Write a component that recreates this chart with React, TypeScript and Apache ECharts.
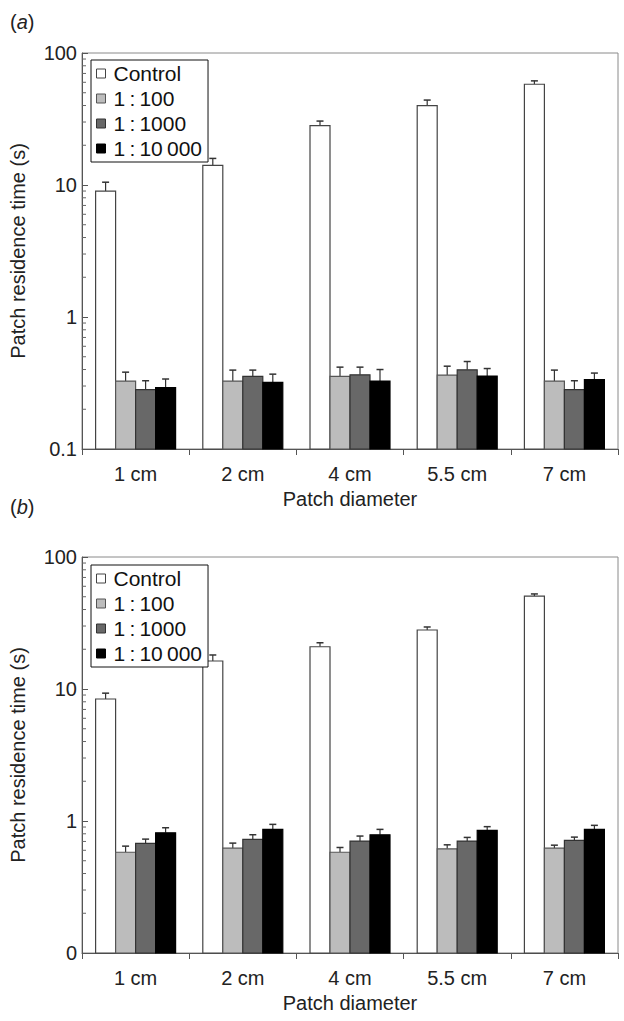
import React, { useEffect, useRef } from "react";
import * as echarts from "echarts";

const categories = ["1 cm", "2 cm", "4 cm", "5.5 cm", "7 cm"];
const seriesNames = ["Control", "1\u2009:\u2009100", "1\u2009:\u20091000", "1\u2009:\u200910\u2009000"];
const seriesColors = ["#ffffff", "#bcbcbc", "#686868", "#000000"];
const borderColors = ["#444444", "#555555", "#333333", "#000000"];

// Panel (a)
const controlA = [9.0, 14.1, 28.2, 40, 58];
const controlAErr = [10.5, 15.9, 30.5, 44, 61.5];
const r100A = [0.327, 0.327, 0.355, 0.363, 0.327];
const r100AErr = [0.382, 0.396, 0.417, 0.424, 0.396];
const r1000A = [0.282, 0.355, 0.365, 0.398, 0.282];
const r1000AErr = [0.329, 0.396, 0.417, 0.46, 0.329];
const r10000A = [0.292, 0.32, 0.327, 0.357, 0.335];
const r10000AErr = [0.339, 0.369, 0.4, 0.407, 0.376];

// Panel (b)
const controlB = [8.4, 16.3, 20.9, 28.0, 50.5];
const controlBErr = [9.3, 18.1, 22.4, 29.5, 52.5];
const r100B = [0.58, 0.623, 0.58, 0.616, 0.623];
const r100BErr = [0.645, 0.68, 0.63, 0.66, 0.656];
const r1000B = [0.676, 0.725, 0.705, 0.705, 0.713];
const r1000BErr = [0.729, 0.787, 0.769, 0.751, 0.755];
const r10000B = [0.815, 0.864, 0.787, 0.849, 0.864];
const r10000BErr = [0.889, 0.943, 0.864, 0.906, 0.927];

const topTickLabels = ["0.1", "1", "10", "100"];
const bottomTickLabels = ["0", "1", "10", "100"];
const minorTickValues = [0.2, 0.3, 0.4, 0.5, 0.6, 0.7, 0.8, 0.9, 2, 3, 4, 5, 6, 7, 8, 9, 20, 30, 40, 50, 60, 70, 80, 90];

const FONT = "Liberation Sans, Arial, Helvetica, sans-serif";
const BAR_W = 20;

export default function App() {
  const ref = useRef<HTMLDivElement>(null);
  useEffect(() => {
    if (!ref.current) return;
    const chart = echarts.init(ref.current, undefined, { renderer: "svg" });

    const panels = [
      { vals: [controlA, r100A, r1000A, r10000A], errs: [controlAErr, r100AErr, r1000AErr, r10000AErr], labels: topTickLabels },
      { vals: [controlB, r100B, r1000B, r10000B], errs: [controlBErr, r100BErr, r1000BErr, r10000BErr], labels: bottomTickLabels },
    ];

    const grids = [
      { left: 82, top: 53, width: 536, height: 396, show: true, borderColor: "#8a8a8a", borderWidth: 1, backgroundColor: "transparent" },
      { left: 82, top: 557, width: 536, height: 396, show: true, borderColor: "#8a8a8a", borderWidth: 1, backgroundColor: "transparent" },
    ];

    const xAxes = [0, 1].map((g) => ({
      type: "category",
      gridIndex: g,
      data: categories,
      name: "Patch diameter",
      nameLocation: "middle",
      nameGap: 40,
      nameTextStyle: { fontSize: 20, color: "#222", fontFamily: FONT },
      axisLine: { lineStyle: { color: "#555", width: 1 } },
      axisTick: { show: true, length: 6, inside: false, lineStyle: { color: "#555" } },
      axisLabel: { fontSize: 20, color: "#222", margin: 15, fontFamily: FONT },
    }));

    const yAxes = [0, 1].map((g) => ({
      type: "log",
      logBase: 10,
      gridIndex: g,
      min: 0.1,
      max: 100,
      name: "Patch residence time (s)",
      nameLocation: "middle",
      nameGap: 54,
      nameTextStyle: { fontSize: 20, color: "#222", fontFamily: FONT },
      axisLine: { show: true, lineStyle: { color: "#555", width: 1 } },
      axisTick: { show: true, inside: true, length: 6, lineStyle: { color: "#555" } },
      axisLabel: {
        fontSize: 20,
        color: "#222",
        margin: 5,
        fontFamily: FONT,
        formatter: (v: number) => {
          const idx = Math.round(Math.log10(v)) + 1;
          return panels[g].labels[idx] ?? "";
        },
      },
      splitLine: { show: false },
    }));

    const series: any[] = [];
    panels.forEach((p, g) => {
      for (let k = 0; k < 4; k++) {
        const data = categories.map((_, i) => [i, p.vals[k][i], p.errs[k][i]]);
        series.push({
          type: "custom",
          name: seriesNames[k],
          xAxisIndex: g,
          yAxisIndex: g,
          itemStyle: { color: seriesColors[k], borderColor: borderColors[k], borderWidth: 1 },
          encode: { x: 0, y: [1, 2] },
          data,
          renderItem: (params: any, api: any) => {
            const i = api.value(0);
            const v = api.value(1);
            const e = api.value(2);
            const top = api.coord([i, v]);
            const base = api.coord([i, 0.1]);
            const et = api.coord([i, e]);
            const cx = top[0] + (k - 1.5) * BAR_W;
            return {
              type: "group",
              children: [
                {
                  type: "line",
                  shape: { x1: cx, y1: top[1], x2: cx, y2: et[1] },
                  style: { stroke: "#333", lineWidth: 1.2 },
                },
                {
                  type: "line",
                  shape: { x1: cx - 3.5, y1: et[1], x2: cx + 3.5, y2: et[1] },
                  style: { stroke: "#333", lineWidth: 1.5 },
                },
                {
                  type: "rect",
                  shape: { x: cx - BAR_W / 2, y: top[1], width: BAR_W, height: base[1] - top[1] },
                  style: { fill: seriesColors[k], stroke: borderColors[k], lineWidth: 1.2 },
                },
              ],
            };
          },
        });
      }
      series.push({
        type: "custom",
        name: "minor" + g,
        xAxisIndex: g,
        yAxisIndex: g,
        silent: true,
        data: minorTickValues.map((v) => [0, v]),
        encode: { x: 0, y: 1 },
        renderItem: (params: any, api: any) => {
          const pt = api.coord([0, api.value(1)]);
          const bw = api.size([1, 0])[0];
          const x0 = pt[0] - bw / 2;
          return {
            type: "line",
            shape: { x1: x0, y1: pt[1], x2: x0 + 4, y2: pt[1] },
            style: { stroke: "#666", lineWidth: 1 },
          };
        },
      });
    });

    const legendData = seriesNames.map((n, k) => ({
      name: n,
      itemStyle: { color: seriesColors[k], borderColor: borderColors[k], borderWidth: 1 },
    }));

    const legends = [60, 565].map((t) => ({
      orient: "vertical",
      left: 91,
      top: t,
      data: legendData,
      icon: "rect",
      itemWidth: 9,
      itemHeight: 9,
      itemGap: 4,
      padding: [3, 6, 3, 5],
      borderColor: "#111",
      borderWidth: 1,
      backgroundColor: "#fff",
      selectedMode: false,
      textStyle: { fontSize: 21, color: "#111", fontFamily: FONT, padding: [0, 0, 0, 3] },
    }));

    chart.setOption({
      animation: false,
      backgroundColor: "#fff",
      textStyle: { fontFamily: FONT },
      grid: grids,
      xAxis: xAxes,
      yAxis: yAxes,
      legend: legends,
      series,
      graphic: [
        {
          type: "text",
          left: 10,
          top: 12,
          style: {
            text: "{n|(}{i|a}{n|)}",
            rich: {
              n: { fontSize: 20, fontFamily: FONT, fill: "#222" },
              i: { fontSize: 20, fontFamily: FONT, fontStyle: "italic", fill: "#222" },
            },
          },
        },
        {
          type: "text",
          left: 10,
          top: 497,
          style: {
            text: "{n|(}{i|b}{n|)}",
            rich: {
              n: { fontSize: 20, fontFamily: FONT, fill: "#222" },
              i: { fontSize: 20, fontFamily: FONT, fontStyle: "italic", fill: "#222" },
            },
          },
        },
      ],
    });
    return () => chart.dispose();
  }, []);
  return <div ref={ref} style={{ position: "absolute", left: 0, top: 0, width: 624, height: 1021 }} />;
}
